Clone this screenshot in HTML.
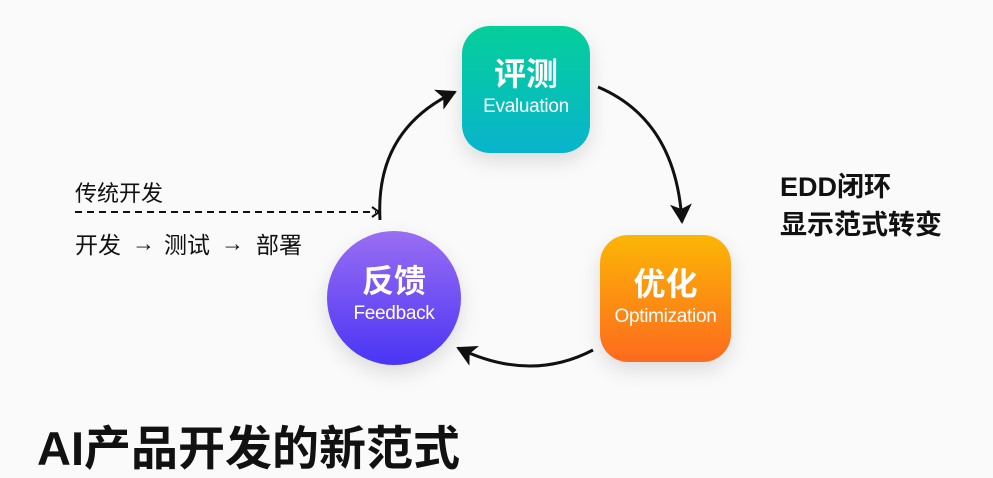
<!DOCTYPE html>
<html><head><meta charset="utf-8"><style>
html,body{margin:0;padding:0;width:993px;height:477px;overflow:hidden;background:#fafafa;font-family:"Liberation Sans","Noto Sans CJK SC",sans-serif;}
.abs{position:absolute;}
.node{position:absolute;color:#fff;text-align:center;box-shadow:0 8px 20px rgba(0,0,0,0.12);}
.node .cn{font-size:32px;font-weight:bold;line-height:36px;}
.node .en{font-size:19px;line-height:22px;margin-top:4px;letter-spacing:-0.3px;}
.t{position:absolute;color:#111;white-space:nowrap;}
</style></head><body>
<svg class="abs" style="left:0;top:0" width="993" height="477">
<defs>
<marker id="ah2" markerWidth="22" markerHeight="22" refX="18" refY="11" orient="auto" markerUnits="userSpaceOnUse">
<path d="M0,0 L20,11 L0,22 L5,11 z" fill="#111"/></marker>
</defs>
<path d="M598,87 Q676,120 682,222" fill="none" stroke="#111" stroke-width="3" marker-end="url(#ah2)"/>
<path d="M593,350 Q530,383 458,348" fill="none" stroke="#111" stroke-width="3" marker-end="url(#ah2)"/>
<path d="M380,220 Q375,130 455,92" fill="none" stroke="#111" stroke-width="3" marker-end="url(#ah2)"/>
<line x1="75" y1="212" x2="376" y2="212" stroke="#111" stroke-width="2" stroke-dasharray="7,5"/>
<path d="M372,207 L379,212 L372,217" fill="none" stroke="#111" stroke-width="2"/>
</svg>
<div class="node" style="left:462px;top:26px;width:128px;height:127px;border-radius:28px;background:linear-gradient(180deg,#05cf9a,#08b4cc);">
<div style="padding-top:30px" class="cn">评测</div><div class="en">Evaluation</div></div>
<div class="node" style="left:600px;top:235px;width:131px;height:127px;border-radius:28px;background:linear-gradient(180deg,#fbb605,#fd6a1e);">
<div style="padding-top:31px" class="cn">优化</div><div class="en">Optimization</div></div>
<div class="node" style="left:327px;top:231px;width:134px;height:134px;border-radius:50%;background:linear-gradient(180deg,#9a6ef2,#4a35f5);">
<div style="padding-top:32px" class="cn">反馈</div><div class="en">Feedback</div></div>
<div class="t" style="left:75px;top:176px;font-size:22px;">传统开发</div>
<div class="t" style="left:75px;top:226px;font-size:23px;">开发</div>
<div class="t" style="left:132px;top:230px;font-size:23px;">→</div>
<div class="t" style="left:164px;top:226px;font-size:23px;">测试</div>
<div class="t" style="left:221px;top:230px;font-size:23px;">→</div>
<div class="t" style="left:256px;top:226px;font-size:23px;">部署</div>
<div class="t" style="left:780px;top:168px;font-size:27px;font-weight:bold;line-height:38px;">EDD闭环<br>显示范式转变</div>
<div class="t" style="left:37px;top:420px;font-size:47px;font-weight:bold;line-height:58px;">AI产品开发的新范式</div>
</body></html>
